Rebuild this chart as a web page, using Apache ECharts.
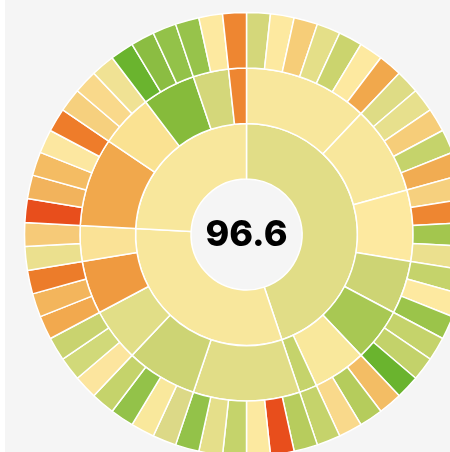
<!DOCTYPE html>
<html>
<head>
<meta charset="utf-8">
<script src="https://cdn.jsdelivr.net/npm/echarts@6/dist/echarts.min.js"></script>
<style>
  html, body { margin: 0; padding: 0; background: #fff; }
  #main { position: absolute; left: 5px; top: 0; width: 445px; height: 452px; background: #f5f5f5; }
</style>
</head>
<body>
<div id="main"></div>
<script>
// 中心分数
var score = '96.6';

// 三层：大类 -> 小类 -> 指标
var groups = ['G1', 'G2', 'G3'];
var subgroups = [
  ['A1', 'A2', 'A3', 'A4', 'A5', 'A6', 'A7'],
  ['B1', 'B2', 'B3', 'B4', 'B5'],
  ['C1', 'C2', 'C3', 'C4', 'C5']
];
// 每个指标的权重（外圈）
var leafValues = [
  [[1, 1, 1, 1, 1, 1, 1], [1, 1, 1, 1, 1], [1, 1, 1, 1], [1, 1, 1], [1, 1, 1], [1, 1, 1], [1]],
  [[1, 1, 1, 1, 1, 1], [1, 1, 1, 1], [1, 1, 1], [1, 1, 1], [1, 1]],
  [[1, 1, 1, 1, 1], [1, 1, 1], [1, 1, 1], [1, 1], [1]]
];

// 颜色
var groupColors = ['#e1dd87', '#f8e79c', '#f8e79c'];
var subColors = [
  ['#f8e79c', '#f8e79c', '#fde9a0', '#cdd474', '#a8c853', '#f9e89c', '#c5d36b'],
  ['#e1dd87', '#cdd474', '#e1de87', '#ef9a40', '#fae296'],
  ['#f1a84c', '#fae292', '#86bb3b', '#d4d77a', '#ee8631']
];
var leafColors = [
  '#d4d77a', '#fde9a0', '#f6cd78', '#e4df88', '#cbd46e', '#fde9a0', '#f1a84c',
  '#dedc85', '#e7e08d', '#f6cd79', '#c5d36b', '#f1ac52',
  '#f6d07e', '#ee8631', '#a3c64e', '#ebe08e',
  '#c5d36b', '#fde9a0', '#9bc44a',
  '#c5d36b', '#c3d26a', '#6ab42e',
  '#f3bd64', '#b5cc5c', '#f9d98b',
  '#c5d36b',
  '#b7cc5d', '#e84e1c', '#fce9a0', '#c5d36b', '#e5df8a', '#93c249',
  '#dcd987', '#f9e89c', '#93c249', '#c5d36b',
  '#fce59e', '#d1d979', '#c9d36f',
  '#f2a94e', '#f3b55c', '#ec7c2a',
  '#ebe08e', '#f6ca78',
  '#e84e1c', '#f2b35c', '#f4bc63', '#fce7a0', '#ee7c2a',
  '#f6d07e', '#f9d98b', '#f0e294',
  '#6ab42e', '#8bbd42', '#93c249',
  '#97c34b', '#fde9a0',
  '#ee8631'
];

(function () {
  var myChart = echarts.init(document.getElementById('main'));

  var idx = 0;
  var data = groups.map(function (g, i) {
    return {
      name: g,
      itemStyle: { color: groupColors[i] },
      children: subgroups[i].map(function (s, j) {
        return {
          name: s,
          itemStyle: { color: subColors[i][j] },
          children: leafValues[i][j].map(function (v, k) {
            return { name: s + '-' + (k + 1), value: v, itemStyle: { color: leafColors[idx++] } };
          })
        };
      })
    };
  });

  var option = {
    backgroundColor: 'transparent',
    animation: false,
    series: [{
      type: 'sunburst',
      center: [241.5, 234.5],
      radius: [55.5, 222],
      sort: null,
      startAngle: 90,
      nodeClick: false,
      data: data,
      label: { show: false },
      itemStyle: {
        borderColor: '#fff',
        borderWidth: 1.5
      },
      emphasis: { focus: 'none' }
    }],
    graphic: [{
      type: 'text',
      x: 241.5,
      y: 235,
      style: {
        text: score,
        align: 'center',
        verticalAlign: 'middle',
        fontFamily: 'Inter',
        fontWeight: 800,
        fontSize: 36,
        fill: '#000'
      }
    }]
  };

  myChart.setOption(option);
  window.addEventListener('resize', function () {
    myChart.resize();
  });
})();
</script>
</body>
</html>
